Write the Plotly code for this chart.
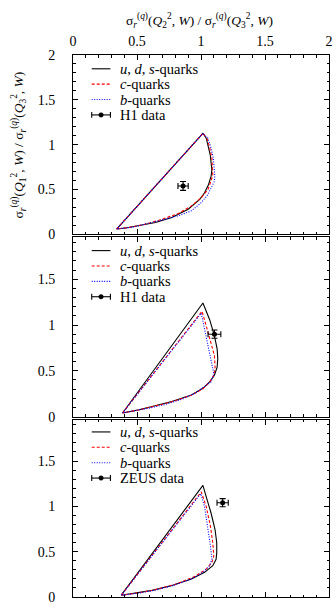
import plotly.graph_objects as go

# ---------------- data ----------------
# Panel 1 (H1 data)
p1_uds_x = [0.341, 1.015, 1.041, 1.059, 1.072, 1.079, 1.085, 1.079, 1.059, 1.028, 0.990, 0.900, 0.772, 0.644, 0.515, 0.423, 0.341]
p1_uds_y = [0.059, 1.127, 1.072, 0.980, 0.887, 0.796, 0.722, 0.649, 0.556, 0.464, 0.390, 0.280, 0.188, 0.133, 0.096, 0.074, 0.059]
p1_c_x = [0.341, 1.015, 1.046, 1.069, 1.085, 1.092, 1.092, 1.079, 1.054, 1.002, 0.925, 0.823, 0.692, 0.554, 0.438, 0.341]
p1_c_y = [0.059, 1.127, 1.072, 0.961, 0.851, 0.740, 0.666, 0.597, 0.500, 0.409, 0.317, 0.232, 0.166, 0.110, 0.077, 0.059]
p1_b_x = [0.341, 1.015, 1.054, 1.079, 1.096, 1.105, 1.108, 1.105, 1.092, 1.054, 1.002, 0.925, 0.823, 0.669, 0.477, 0.341]
p1_b_y = [0.059, 1.127, 1.072, 0.961, 0.851, 0.740, 0.652, 0.593, 0.556, 0.445, 0.354, 0.262, 0.207, 0.151, 0.083, 0.059]
p1_data_x = [0.86]
p1_data_y = [0.54]
p1_data_xerr = [0.04]
p1_data_yerr = [0.05]

# Panel 2 (H1 data)
p2_uds_x = [0.387, 1.015, 1.067, 1.105, 1.126, 1.131, 1.126, 1.105, 1.067, 1.015, 0.925, 0.772, 0.618, 0.515, 0.387]
p2_uds_y = [0.040, 1.240, 1.061, 0.882, 0.739, 0.631, 0.541, 0.452, 0.380, 0.309, 0.237, 0.165, 0.111, 0.075, 0.040]
p2_c_x = [0.387, 1.008, 1.041, 1.079, 1.105, 1.110, 1.100, 1.067, 1.015, 0.925, 0.772, 0.618, 0.515, 0.387]
p2_c_y = [0.040, 1.150, 0.989, 0.810, 0.667, 0.541, 0.452, 0.375, 0.305, 0.234, 0.162, 0.108, 0.073, 0.040]
p2_b_x = [0.387, 1.002, 1.028, 1.054, 1.079, 1.100, 1.079, 1.028, 0.952, 0.850, 0.720, 0.590, 0.480, 0.387]
p2_b_y = [0.040, 1.130, 0.954, 0.774, 0.595, 0.470, 0.380, 0.326, 0.255, 0.190, 0.132, 0.092, 0.062, 0.040]
p2_data_x = [1.105]
p2_data_y = [0.90]
p2_data_xerr = [0.05]
p2_data_yerr = [0.045]

# Panel 3 (ZEUS data)
p3_uds_x = [0.377, 1.015, 1.041, 1.079, 1.110, 1.123, 1.123, 1.118, 1.092, 1.028, 0.925, 0.772, 0.618, 0.515, 0.377]
p3_uds_y = [0.020, 1.232, 1.105, 0.924, 0.742, 0.598, 0.489, 0.416, 0.345, 0.272, 0.199, 0.127, 0.073, 0.047, 0.020]
p3_c_x = [0.377, 1.002, 1.041, 1.074, 1.092, 1.100, 1.085, 1.041, 0.950, 0.800, 0.640, 0.515, 0.377]
p3_c_y = [0.020, 1.160, 0.997, 0.779, 0.598, 0.453, 0.380, 0.308, 0.225, 0.140, 0.080, 0.047, 0.020]
p3_b_x = [0.377, 0.998, 1.028, 1.054, 1.074, 1.085, 1.067, 1.015, 0.925, 0.790, 0.640, 0.515, 0.377]
p3_b_y = [0.020, 1.140, 0.997, 0.779, 0.562, 0.416, 0.345, 0.272, 0.200, 0.130, 0.075, 0.043, 0.020]
p3_data_x = [1.169]
p3_data_y = [1.04]
p3_data_xerr = [0.044]
p3_data_yerr = [0.045]

series_names = ["<i>u</i>, <i>d</i>, <i>s</i>-quarks", "<i>c</i>-quarks", "<i>b</i>-quarks"]
data_names = ["H1 data", "H1 data", "ZEUS data"]
x_ticks = [0, 0.5, 1, 1.5, 2]

# ---------------- figure ----------------
FONT = "Liberation Serif"
W, H = 336, 608
ML, MR, MT, MB = 73, 3, 55, 3
PW = W - ML - MR
PH = H - MT - MB


def py(px):  # pixel from top -> paper y fraction
    return (H - MB - px) / PH


def pxx(px):  # pixel from left -> paper x fraction
    return (px - ML) / PW


panels = [
    dict(top=55, bot=237, yr=2.0, uds=(p1_uds_x, p1_uds_y), c=(p1_c_x, p1_c_y), b=(p1_b_x, p1_b_y),
         d=(p1_data_x, p1_data_y, p1_data_xerr, p1_data_yerr), leg_row0=69),
    dict(top=240, bot=422, yr=1.957, uds=(p2_uds_x, p2_uds_y), c=(p2_c_x, p2_c_y), b=(p2_b_x, p2_b_y),
         d=(p2_data_x, p2_data_y, p2_data_xerr, p2_data_yerr), leg_row0=253.5),
    dict(top=425, bot=605, yr=1.957, uds=(p3_uds_x, p3_uds_y), c=(p3_c_x, p3_c_y), b=(p3_b_x, p3_b_y),
         d=(p3_data_x, p3_data_y, p3_data_xerr, p3_data_yerr), leg_row0=437.5),
]

line_styles = [
    dict(color="black", width=1.1),
    dict(color="#ff0000", width=1.1, dash="3px,2px"),
    dict(color="#0000ff", width=1.1, dash="1px,1.5px"),
]

fig = go.Figure()
layout = dict(
    width=W, height=H,
    margin=dict(l=ML, r=MR, t=MT, b=MB, pad=0),
    paper_bgcolor="white", plot_bgcolor="white",
    font=dict(family=FONT, size=13, color="black"),
    showlegend=False,
)
shapes = []
annotations = []
LEG_X0, LEG_X1, LEG_TX = 92, 111, 119
ROW = 15.6

for i, p in enumerate(panels):
    n = i + 1
    xa = "x" if n == 1 else f"x{n}"
    ya = "y" if n == 1 else f"y{n}"
    for (xs, ys), line, name in zip([p["uds"], p["c"], p["b"]], line_styles, series_names):
        fig.add_trace(go.Scatter(x=xs, y=ys, mode="lines", line=line, name=name,
                                 xaxis=xa, yaxis=ya, hoverinfo="skip"))
    dx, dy, dxe, dye = p["d"]
    fig.add_trace(go.Scatter(
        x=dx, y=dy, mode="markers", name=data_names[i],
        marker=dict(color="black", size=5),
        error_x=dict(type="data", array=dxe, color="black", thickness=1.1, width=3),
        error_y=dict(type="data", array=dye, color="black", thickness=1.1, width=3),
        xaxis=xa, yaxis=ya))

    common = dict(showline=True, linecolor="black", linewidth=1, mirror="allticks",
                  ticks="inside", ticklen=5, tickwidth=1, tickcolor="black",
                  showgrid=False, zeroline=False,
                  minor=dict(dtick=0.1, ticks="inside", ticklen=2.5, tickwidth=1, tickcolor="black", showgrid=False),
                  tickfont=dict(family=FONT, size=14, color="black"))
    xkey = "xaxis" if n == 1 else f"xaxis{n}"
    ykey = "yaxis" if n == 1 else f"yaxis{n}"
    layout[xkey] = dict(common, range=[0, 2], anchor=ya, tickvals=x_ticks,
                        side="top" if n == 1 else "bottom",
                        showticklabels=(n == 1), ticklabelstandoff=2)
    layout[ykey] = dict(common, range=[0, p["yr"]], anchor=xa, dtick=0.5, tick0=0,
                        domain=[py(p["bot"]), py(p["top"])], ticklabelstandoff=14)

    # legend (drawn as keys + labels)
    labels = series_names + [data_names[i]]
    for r, lab in enumerate(labels):
        yc = py(p["leg_row0"] + r * ROW)
        if r < 3:
            st = line_styles[r]
            shapes.append(dict(type="line", xref="paper", yref="paper",
                               x0=pxx(LEG_X0), x1=pxx(LEG_X1), y0=yc, y1=yc,
                               line=dict(color=st["color"], width=st["width"], dash=st.get("dash", "solid"))))
        else:
            shapes.append(dict(type="line", xref="paper", yref="paper",
                               x0=pxx(LEG_X0), x1=pxx(LEG_X1), y0=yc, y1=yc,
                               line=dict(color="black", width=1.1)))
            for xe in (LEG_X0, LEG_X1):
                shapes.append(dict(type="line", xref="paper", yref="paper",
                                   x0=pxx(xe), x1=pxx(xe), y0=yc - 3 / PH, y1=yc + 3 / PH,
                                   line=dict(color="black", width=1.1)))
            xm = (LEG_X0 + LEG_X1) / 2
            shapes.append(dict(type="circle", xref="paper", yref="paper",
                               x0=pxx(xm - 2.3), x1=pxx(xm + 2.3), y0=yc - 2.3 / PH, y1=yc + 2.3 / PH,
                               fillcolor="black", line=dict(color="black", width=0.5)))
        annotations.append(dict(text=lab, xref="paper", yref="paper", x=pxx(LEG_TX), y=yc,
                                xanchor="left", yanchor="middle", showarrow=False,
                                font=dict(family=FONT, size=14.5, color="black")))

annotations += [
    dict(text="σ<sub><i>r</i></sub><sup>(<i>q</i>)</sup>(<i>Q</i><sub>2</sub><sup>2</sup>, <i>W</i>) / "
              "σ<sub><i>r</i></sub><sup>(<i>q</i>)</sup>(<i>Q</i><sub>3</sub><sup>2</sup>, <i>W</i>)",
         xref="paper", yref="paper", x=pxx(201), y=py(20), xanchor="center", yanchor="middle",
         showarrow=False, font=dict(family=FONT, size=13.5, color="black")),
    dict(text="σ<sub><i>r</i></sub><sup>(<i>q</i>)</sup>(<i>Q</i><sub>1</sub><sup>2</sup>, <i>W</i>) / "
              "σ<sub><i>r</i></sub><sup>(<i>q</i>)</sup>(<i>Q</i><sub>3</sub><sup>2</sup>, <i>W</i>)",
         xref="paper", yref="paper", x=pxx(18), y=py(146), xanchor="center", yanchor="middle",
         textangle=-90, showarrow=False, font=dict(family=FONT, size=13.5, color="black")),
]
layout["shapes"] = shapes
layout["annotations"] = annotations

fig.update_layout(**layout)
fig.write_html("out.html")
